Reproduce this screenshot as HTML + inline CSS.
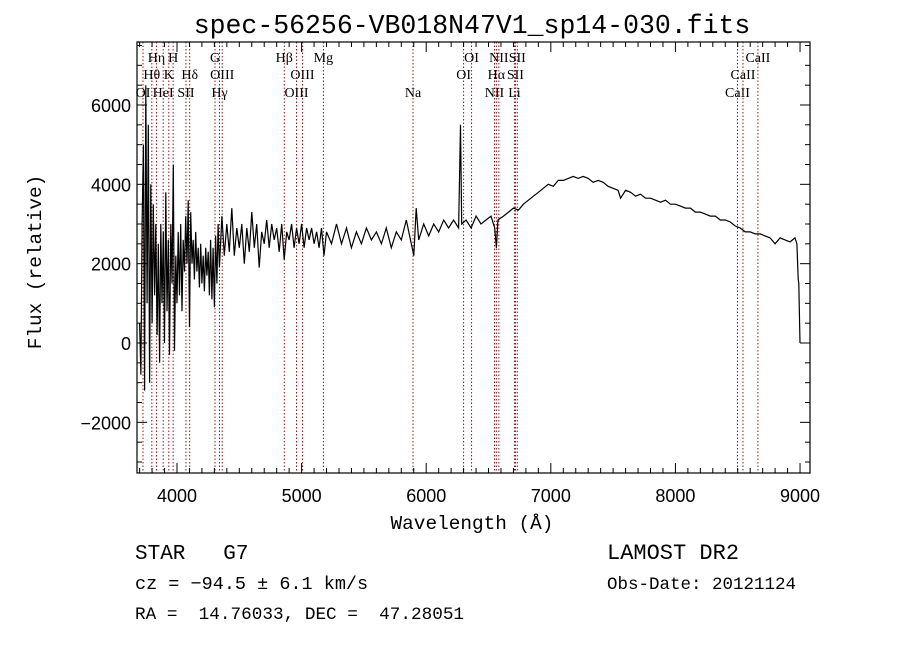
<!DOCTYPE html>
<html><head><meta charset="utf-8"><style>
body{margin:0;background:#fff;width:900px;height:649px;overflow:hidden}
svg text{font-family:"Liberation Mono",monospace;white-space:pre}
svg text.lbl{font-family:"Liberation Serif",serif;font-size:14px}
svg text.tick{font-family:"Liberation Sans",sans-serif;font-size:18px}
</style></head><body>
<svg id="chart" width="900" height="649">
<text x="472" y="33" text-anchor="middle" font-size="26.5">spec-56256-VB018N47V1_sp14-030.fits</text>
<g id="lines"></g><g id="axes"></g>
<polyline id="spec" fill="none" stroke="#000" stroke-width="1.2"/>
<text x="472" y="529" text-anchor="middle" font-size="19.4">Wavelength (Å)</text>
<text transform="translate(41,262) rotate(-90)" text-anchor="middle" font-size="19.4">Flux (relative)</text>
<text x="135" y="559" font-size="21" xml:space="preserve">STAR   G7</text>
<text x="135" y="589" font-size="18.5">cz = −94.5 ± 6.1 km/s</text>
<text x="135" y="619" font-size="17.7" xml:space="preserve">RA =  14.76033, DEC =  47.28051</text>
<text x="607" y="559" font-size="22">LAMOST DR2</text>
<text x="607" y="589" font-size="17.5">Obs-Date: 20121124</text>
</svg>
<script>
const waves=[3700,3710,3720,3730,3740,3750,3760,3770,3780,3790,3800,3810,3820,3830,3840,3850,3860,3870,3880,3890,3900,3910,3920,3930,3940,3950,3960,3970,3980,3990,4000,4010,4020,4030,4040,4050,4060,4070,4080,4090,4100,4110,4120,4130,4140,4150,4160,4170,4180,4190,4200,4210,4220,4230,4240,4250,4260,4270,4280,4290,4300,4310,4320,4330,4340,4360,4380,4400,4420,4440,4460,4480,4500,4520,4540,4560,4580,4600,4620,4640,4660,4680,4700,4720,4740,4760,4780,4800,4820,4840,4860,4880,4900,4920,4940,4960,4980,5000,5020,5040,5060,5080,5100,5120,5140,5160,5180,5200,5240,5280,5320,5360,5400,5440,5480,5520,5560,5600,5640,5680,5720,5760,5800,5840,5880,5900,5920,5940,5980,6020,6060,6100,6140,6180,6220,6260,6275,6285,6320,6360,6400,6440,6480,6520,6550,6563,6575,6620,6660,6700,6740,6780,6820,6860,6900,6940,6980,7020,7060,7100,7140,7180,7220,7260,7300,7340,7380,7420,7460,7500,7540,7560,7600,7640,7680,7720,7760,7800,7840,7880,7920,7960,8000,8040,8080,8120,8160,8200,8240,8280,8320,8360,8400,8440,8480,8520,8560,8600,8640,8680,8720,8760,8800,8840,8880,8920,8960,8975,8985,8990,9000];
const flux=[500,-800,3000,5000,-1200,6500,1000,5500,-1000,4000,500,3500,1200,3000,200,2500,-500,3000,1000,2800,0,3800,800,2600,-300,3000,1500,4500,-200,2200,1000,2800,1200,3000,800,2600,1800,3200,2000,3600,400,3300,2000,2600,1600,2800,1800,2400,1400,2500,1500,2200,1300,2400,1700,2300,1200,2600,1100,2400,900,2700,1500,3000,1900,3200,2200,3000,2300,3400,2200,2900,2400,3000,2000,2900,2300,3300,2400,3000,1900,2800,2500,3100,2400,3000,2600,2900,2300,3000,2100,2800,2600,3000,2400,2900,2500,3000,2400,2900,2600,2900,2500,2800,2400,2900,2200,2800,2500,3000,2500,2900,2400,2800,2500,2900,2600,2800,2500,2900,2400,2800,2600,3100,2500,2200,3400,2600,3000,2700,3000,2800,3100,2900,3100,2900,5500,3000,3100,2900,3200,3000,3100,3200,2900,2400,3100,3200,3300,3400,3350,3500,3600,3700,3800,3900,4000,3950,4100,4100,4150,4200,4150,4200,4150,4050,4100,4050,3950,3900,3850,3650,3850,3800,3700,3750,3650,3650,3600,3550,3600,3500,3500,3450,3400,3400,3300,3300,3250,3200,3200,3100,3100,3050,2950,2900,2800,2800,2750,2750,2700,2650,2500,2650,2600,2550,2650,2500,1600,1500,0];
const lineNames=["OI","Hθ","Hη","HeI","K","H","SII","Hδ","G","Hγ","OIII","Hβ","OIII","OIII","Mg","Na","OI","OI","NII","Hα","NII","Li","SII","SII","CaII","CaII","CaII"];
const lineWaves=[3727,3798,3835,3889,3934,3969,4072,4102,4305,4341,4363,4861,4959,5007,5175,5894,6300,6364,6548,6563,6583,6708,6716,6731,8498,8542,8662];
const lineRows=[3,2,1,3,2,1,3,2,1,3,2,1,3,2,1,3,2,1,3,2,1,3,2,1,3,2,1];
const yTicks=[-2000,0,2000,4000,6000];
const xTicks=[4000,5000,6000,7000,8000,9000];
const L=137,R=810,T=42,B=473,X0=3679,X1=9080,Y0=-3277,Y1=7588;
const sx=w=>L+(w-X0)/(X1-X0)*(R-L);
const sy=f=>B-(f-Y0)/(Y1-Y0)*(B-T);
const NS="http://www.w3.org/2000/svg";
function mk(tag,at,parent){const e=document.createElementNS(NS,tag);for(const k in at)e.setAttribute(k,at[k]);parent.appendChild(e);return e;}
const lg=document.getElementById('lines');
lineWaves.forEach((w,i)=>{
 const x=sx(w);
 const l=mk('line',{x1:x,x2:x,y1:T,y2:B,stroke:'#8b1a1a','stroke-width':1,'stroke-dasharray':'1.5,2'},lg);
 
 
 const t=mk('text',{x:x,y:[0,62,79,97][lineRows[i]],'text-anchor':'middle',class:'lbl'},lg);
 t.textContent=lineNames[i];
 
 
});
const ag=document.getElementById('axes');
const fr=mk('rect',{x:L,y:T,width:R-L,height:B-T,fill:'none',stroke:'#000','stroke-width':1.2},ag);


for(let w=3700;w<=9080;w+=100){const x=sx(w);const maj=w%1000===0;const h=maj?10:5;
 mk('line',{x1:x,x2:x,y1:B,y2:B-h,stroke:'#000'},ag);mk('line',{x1:x,x2:x,y1:T,y2:T+h,stroke:'#000'},ag);}
for(let f=-3000;f<=7500;f+=500){const y=sy(f);const maj=f%2000===0;const h=maj?10:5;
 mk('line',{x1:L,x2:L+h,y1:y,y2:y,stroke:'#000'},ag);mk('line',{x1:R,x2:R-h,y1:y,y2:y,stroke:'#000'},ag);}
xTicks.forEach(v=>{const t=mk('text',{x:sx(v),y:B+29,'text-anchor':'middle',class:'tick'},ag);t.textContent=v;
 
 });
yTicks.forEach(v=>{const t=mk('text',{x:L-6,y:sy(v)+7,'text-anchor':'end',class:'tick'},ag);t.textContent=v<0?'−'+(-v):v;
 
 });
document.getElementById('spec').setAttribute('points',waves.map((w,i)=>sx(w).toFixed(1)+','+sy(flux[i]).toFixed(1)).join(' '));
</script>
</body></html>
